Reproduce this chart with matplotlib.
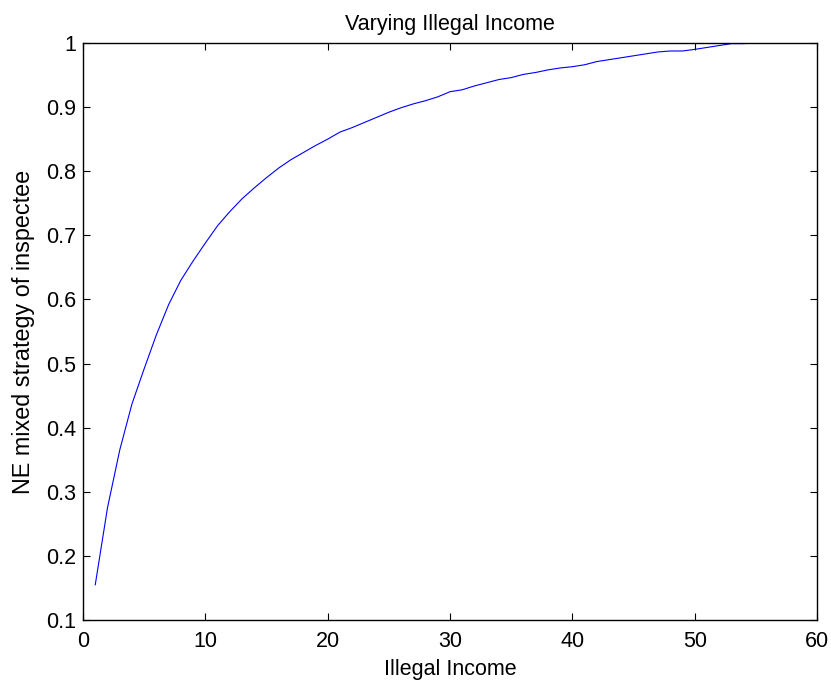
import numpy as np
import matplotlib
matplotlib.use("Agg")
import matplotlib.pyplot as plt

# =====================================================
# DATA
# =====================================================

illegal_income = list(range(1, 56))

ne_strategy = [
    0.155, 0.275, 0.365, 0.437, 0.492, 0.545, 0.592, 0.630, 0.660, 0.688,
    0.715, 0.737, 0.757, 0.774, 0.790, 0.805, 0.818, 0.829, 0.840, 0.850,
    0.861, 0.868, 0.876, 0.884, 0.892, 0.899, 0.905, 0.910, 0.916, 0.924,
    0.927, 0.933, 0.938, 0.943, 0.946, 0.951, 0.954, 0.958, 0.961, 0.963,
    0.966, 0.971, 0.974, 0.977, 0.980, 0.983, 0.986, 0.9875, 0.9875, 0.990,
    0.993, 0.996, 0.999, 0.999, 1.000,
]

x_ticks = [0, 10, 20, 30, 40, 50, 60]
y_ticks = [0.1, 0.2, 0.3, 0.4, 0.5, 0.6, 0.7, 0.8, 0.9, 1]
y_tick_labels = ["0.1", "0.2", "0.3", "0.4", "0.5", "0.6", "0.7", "0.8", "0.9", "1"]


# =====================================================
# PLOT
# =====================================================

plt.rcParams["font.family"] = ["Liberation Sans", "DejaVu Sans"]

FS = 15.5

fig = plt.figure(figsize=(8.31, 6.8), dpi=100)
ax = fig.add_axes([0.0999, 0.0882, 0.8833, 0.8486])

ax.plot(illegal_income, ne_strategy, color="#0000ff", linewidth=0.8)

ax.set_xlim(0, 60)
ax.set_ylim(0.1, 1)
ax.set_xticks(x_ticks)
ax.set_yticks(y_ticks)
ax.set_yticklabels(y_tick_labels)

ax.tick_params(direction="in", length=5, width=0.8, top=True, right=True,
               labelsize=FS)
ax.tick_params(axis="y", pad=5)
ax.tick_params(axis="x", pad=8)
for s in ax.spines.values():
    s.set_linewidth(1.0)

ax.set_title("Varying Illegal Income", fontsize=FS, pad=9)
ax.set_xlabel("Illegal Income", fontsize=FS, labelpad=5)
ax.set_ylabel("NE mixed strategy of inspectee", fontsize=16.8, labelpad=8)

fig.savefig("out.png", dpi=100)
